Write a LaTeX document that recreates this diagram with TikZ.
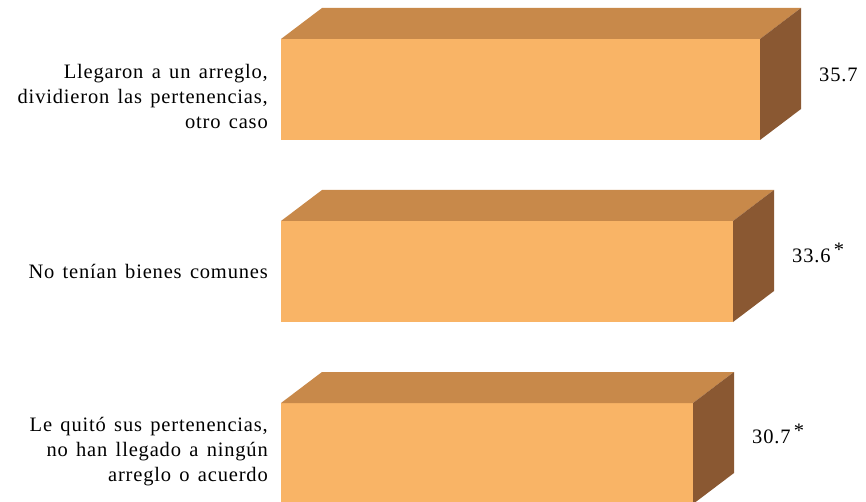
\documentclass[tikz,border=0pt]{standalone}
\usepackage{fontspec}
\setmainfont[LetterSpace=4,WordSpace=1.4]{Liberation Serif}
\definecolor{frontc}{RGB}{249,180,102}
\definecolor{topc}{RGB}{200,137,74}
\definecolor{sidec}{RGB}{138,88,50}
\begin{document}
\begin{tikzpicture}[x=1pt,y=-1pt,
  lbl/.style={anchor=east,align=right,font=\fontsize{20.5}{25}\selectfont,inner sep=0pt},
  val/.style={anchor=west,font=\fontsize{20.5}{22}\selectfont,inner sep=0pt}]
\useasboundingbox (0,0) rectangle (866,502);
\begin{scope}
\clip (0,0) rectangle (866,502);
\foreach \ty/\rx in {39/760, 221/733, 403/693}{
  \fill[frontc] (281,\ty) rectangle (\rx,\ty+101);
  \fill[topc] (281,\ty) -- (322,\ty-31) -- (\rx+41,\ty-31) -- (\rx,\ty) -- cycle;
  \fill[sidec] (\rx,\ty) -- (\rx+41,\ty-31) -- (\rx+41,\ty+70) -- (\rx,\ty+101) -- cycle;
}
\end{scope}
\node[lbl] (l1) at (268,96) {Llegaron a un arreglo,\\dividieron las pertenencias,\\otro caso};
\node[lbl] (l2) at (268,271) {No tenían bienes comunes};
\node[lbl] (l3) at (268,452) {Le quitó sus pertenencias,\\no han llegado a ningún\\arreglo o acuerdo};
\node[val] (v1) at (819,75) {35.7};
\node[val] (v2) at (792,253) {33.6\,\raisebox{0.3em}{*}};
\node[val] (v3) at (752,434) {30.7\,\raisebox{0.3em}{*}};
\end{tikzpicture}
\end{document}
